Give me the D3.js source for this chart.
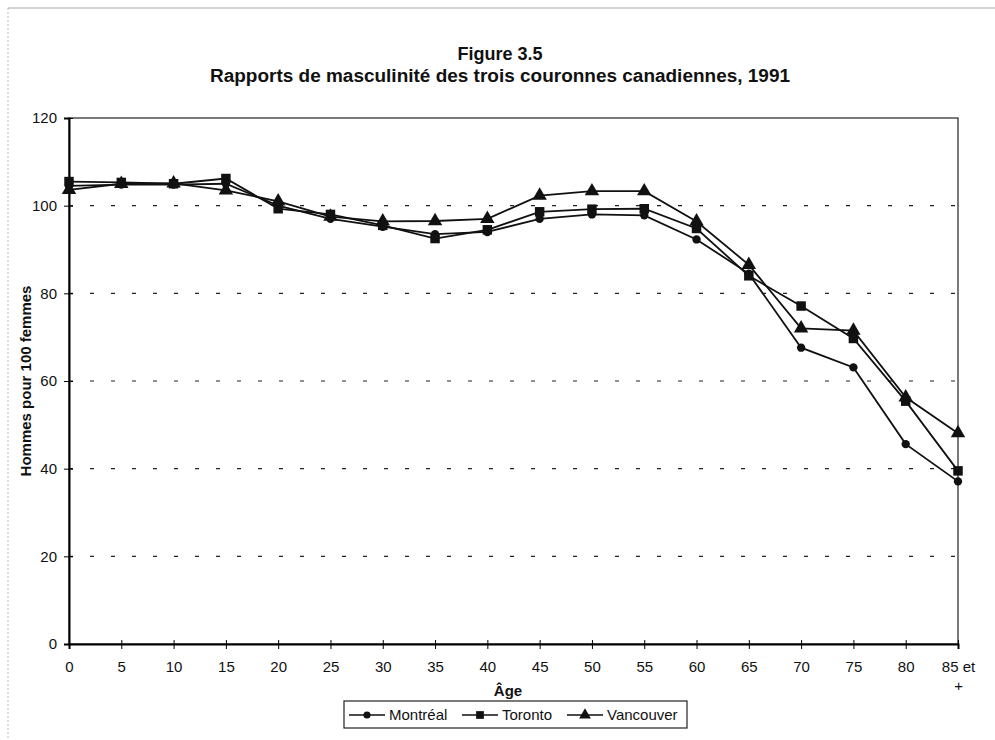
<!DOCTYPE html>
<html>
<head>
<meta charset="utf-8">
<script src="https://cdn.jsdelivr.net/npm/d3@7"></script>
<style>
  body { margin: 0; background: #fff; }
  text { font-family: "Liberation Sans", Arial, sans-serif; fill: #111; }
</style>
</head>
<body>
<div id="chart"></div>
<script>
const ages = ["0", "5", "10", "15", "20", "25", "30", "35", "40", "45", "50", "55", "60", "65", "70", "75", "80", "85"];
const montreal = [104.5, 104.8, 104.8, 105, 100, 97, 95.2, 93.5, 94, 97, 98, 97.8, 92.3, 84.5, 67.6, 63.1, 45.6, 37.1];
const toronto = [105.5, 105.3, 105, 106.2, 99.3, 98, 95.5, 92.5, 94.5, 98.6, 99.2, 99.3, 94.8, 84, 77.1, 69.7, 55.4, 39.5];
const vancouver = [103.6, 105, 105.1, 103.5, 101, 97.5, 96.4, 96.5, 97, 102.3, 103.3, 103.3, 96.4, 86.5, 72, 71.5, 56.3, 48.1];
const yTicks = [0, 20, 40, 60, 80, 100, 120];
const seriesNames = ["Montréal", "Toronto", "Vancouver"];
const seriesShapes = [d3.symbolCircle, d3.symbolSquare, d3.symbolTriangle];

const W = 995, H = 740;
const margin = { top: 118, right: 37, bottom: 96, left: 69 };
const width = W - margin.left - margin.right;
const height = H - margin.top - margin.bottom;

const svg = d3.select("#chart").append("svg")
  .attr("width", W)
  .attr("height", H);

// faint scanned page edges
svg.append("line")
  .attr("x1", 8).attr("x2", 8).attr("y1", 8).attr("y2", H)
  .attr("stroke", "#bbb").attr("stroke-dasharray", "2,2");
svg.append("line")
  .attr("x1", 8).attr("x2", W).attr("y1", 8).attr("y2", 8)
  .attr("stroke", "#aaa");

const g = svg.append("g")
  .attr("transform", `translate(${margin.left},${margin.top})`);

const x = d3.scalePoint().domain(ages).range([0, width]).padding(0);
const y = d3.scaleLinear().domain([0, 120]).range([height, 0]);

// gridlines
g.selectAll(".grid")
  .data(yTicks.filter(d => d > 0 && d < 120))
  .enter().append("line")
  .attr("x1", 0).attr("x2", width)
  .attr("y1", d => y(d)).attr("y2", d => y(d))
  .attr("stroke", "#222").attr("stroke-width", 1.2)
  .attr("stroke-dasharray", "4,17");

// frame
g.append("rect")
  .attr("width", width).attr("height", height)
  .attr("fill", "none").attr("stroke", "#222").attr("stroke-width", 1.2);

// axes
const yAxis = g.append("g")
  .call(d3.axisLeft(y).tickValues(yTicks).tickSize(5).tickPadding(7));
yAxis.select(".domain").attr("stroke-width", 2);
yAxis.selectAll("line").attr("x2", 4).attr("x1", -5);
yAxis.selectAll("text").style("font-size", "15px");

const xAxis = g.append("g")
  .attr("transform", `translate(0,${height})`)
  .call(d3.axisBottom(x).tickSize(5).tickPadding(12));
xAxis.select(".domain").attr("stroke-width", 2);
xAxis.selectAll("line").attr("y1", -4).attr("y2", 5);
xAxis.selectAll("text").style("font-size", "15px");
xAxis.selectAll(".tick").filter(d => d === "85").select("text")
  .text(null)
  .call(t => {
    t.append("tspan").attr("x", 0).attr("dy", "0.71em").text("85 et");
    t.append("tspan").attr("x", 0).attr("dy", "1.3em").text("+");
  });

// lines and markers
const series = [montreal, toronto, vancouver];
const line = d3.line().x((d, i) => x(ages[i])).y(d => y(d));

series.forEach((vals, s) => {
  g.append("path")
    .datum(vals)
    .attr("d", line)
    .attr("fill", "none")
    .attr("stroke", "#111")
    .attr("stroke-width", 1.8);
  g.selectAll(".m" + s)
    .data(vals)
    .enter().append("path")
    .attr("transform", (d, i) => `translate(${x(ages[i])},${y(d)})`)
    .attr("d", d3.symbol().type(seriesShapes[s]).size(s === 0 ? 55 : 90))
    .attr("fill", "#111");
});

// titles
svg.append("text")
  .attr("x", 500).attr("y", 60)
  .attr("text-anchor", "middle")
  .style("font-size", "18px").style("font-weight", "bold")
  .text("Figure 3.5");
svg.append("text")
  .attr("x", 500).attr("y", 82)
  .attr("text-anchor", "middle")
  .attr("textLength", 580).attr("lengthAdjust", "spacingAndGlyphs")
  .style("font-size", "18px").style("font-weight", "bold")
  .text("Rapports de masculinité des trois couronnes canadiennes, 1991");

svg.append("text")
  .attr("transform", `translate(31,${margin.top + height / 2}) rotate(-90)`)
  .attr("text-anchor", "middle")
  .style("font-size", "15px").style("font-weight", "bold")
  .text("Hommes pour 100 femmes");

svg.append("text")
  .attr("x", 508).attr("y", 696)
  .attr("text-anchor", "middle")
  .style("font-size", "15px").style("font-weight", "bold")
  .text("Âge");

// legend
const legend = svg.append("g").attr("transform", "translate(344,701)");
legend.append("rect")
  .attr("width", 343).attr("height", 27)
  .attr("fill", "none").attr("stroke", "#222").attr("stroke-width", 1.2);
const legendX = [5, 118, 223];
seriesNames.forEach((name, i) => {
  const lg = legend.append("g").attr("transform", `translate(${legendX[i]},14)`);
  lg.append("line").attr("x1", 0).attr("x2", 36)
    .attr("stroke", "#111").attr("stroke-width", 1.6);
  lg.append("path")
    .attr("transform", "translate(18,0)")
    .attr("d", d3.symbol().type(seriesShapes[i]).size(i === 0 ? 40 : 60))
    .attr("fill", "#111");
  lg.append("text")
    .attr("x", 40).attr("dy", "0.35em")
    .style("font-size", "15px")
    .text(name);
});
</script>
</body>
</html>
